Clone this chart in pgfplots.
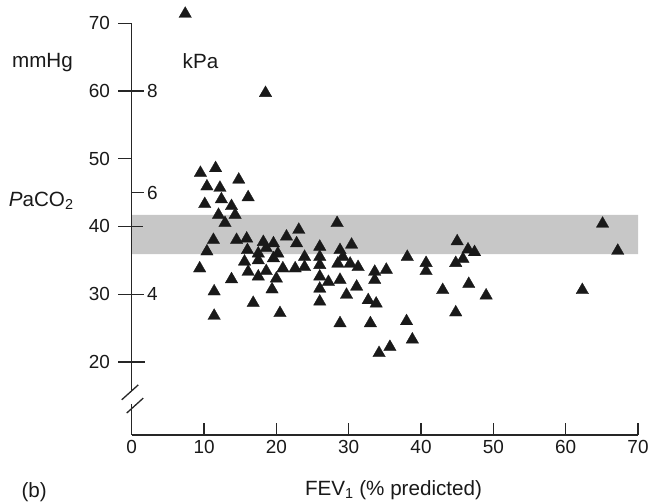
\documentclass[border=0pt]{standalone}
\usepackage{pgfplots}
\pgfplotsset{compat=1.18}
\usepackage{fontspec}
\setmainfont{Liberation Sans}
\pgfplotstableread{
x y
7.4 71.4
18.5 59.7
9.5 47.9
11.6 48.6
14.8 46.9
10.4 45.9
12.2 45.7
16.1 44.3
10.1 43.3
12.4 44.0
13.8 43.0
14.3 41.7
12.0 41.7
12.9 40.5
11.3 38.0
10.4 36.3
14.5 38.0
15.9 38.2
9.4 33.8
13.8 32.2
11.4 30.4
11.4 26.8
16.8 28.7
20.5 27.2
23.1 39.5
21.4 38.5
22.8 37.5
18.2 37.7
19.6 37.5
16.0 36.5
17.5 36.0
20.2 36.0
18.6 36.8
15.6 34.8
17.5 35.0
19.6 35.3
23.9 35.5
26.0 37.0
26.0 35.5
16.1 33.3
18.6 33.4
20.9 33.8
22.6 33.8
23.9 34.0
17.5 32.6
20.0 32.3
19.4 30.7
26.0 34.3
26.0 32.6
27.2 31.8
26.0 30.8
26.0 28.9
28.4 40.5
28.8 36.5
30.4 37.3
29.2 35.5
28.5 34.5
30.2 34.5
31.3 34.0
28.8 32.1
31.1 31.1
29.7 29.9
33.6 33.3
35.2 33.6
33.6 32.1
32.7 29.1
33.8 28.6
38.1 35.5
28.8 25.7
33.0 25.7
34.2 21.3
35.7 22.2
45.0 37.8
46.5 36.6
47.4 36.2
45.8 35.2
44.8 34.6
40.7 34.6
40.7 33.4
43.0 30.6
46.6 31.5
49.0 29.8
44.8 27.3
38.0 26.0
38.8 23.3
65.1 40.4
67.2 36.4
62.3 30.6
}\pts
\begin{document}
\begin{tikzpicture}[font=\fontsize{20.7}{24}\selectfont]
\useasboundingbox (-131.7bp,-67bp) rectangle (516.3bp,435bp);
\begin{axis}[
  at={(0,0)}, anchor=south west,
  scale only axis, width=506.3bp, height=411.7bp,
  xmin=0, xmax=70, ymin=9.2, ymax=70,
  clip=false,
  axis lines*=left,
  axis line style={line width=1.3bp, black!85},
  y axis line style={draw=none},
  xtick={0,10,...,70}, ytick={20,30,...,70},
  major tick length=0pt,
  /pgf/number format/assume math mode=true,
  tick label style={font=\fontsize{19}{22}\selectfont, text=black!90, inner sep=0pt},
  xticklabel style={anchor=north, yshift=-5bp},
  yticklabel style={anchor=east, xshift=-21.5bp},
]
\addplot[fill=black!22, draw=none] coordinates {(0,35.9) (70,35.9) (70,41.7) (0,41.7) (0,35.9)};
\addplot[only marks, mark=triangle*, mark size=7.2bp,
  mark options={fill=black!90, draw=black!90, line width=0.3bp}] table {\pts};
% y axis with break
\draw[line width=1.3bp, black!85] (axis cs:0,70) -- (axis cs:0,15.73);
\draw[line width=1.3bp, black!85] (axis cs:0,13.8) -- (axis cs:0,9.2);
\draw[line width=1.3bp, black!85] (axis cs:-1.38,14.4) -- (axis cs:0.91,16.6);
\draw[line width=1.3bp, black!85] (axis cs:-0.69,12.44) -- (axis cs:1.6,14.65);
% mmHg ticks
\draw[line width=1.3bp, black!85] ([xshift=-13.5bp]axis cs:0,70) -- (axis cs:0,70);
\draw[line width=1.3bp, black!85] ([xshift=-13.5bp]axis cs:0,60) -- ([xshift=12bp]axis cs:0,60);
\draw[line width=1.3bp, black!85] ([xshift=-13.5bp]axis cs:0,50) -- (axis cs:0,50);
\draw[line width=1.3bp, black!85] ([xshift=-13.5bp]axis cs:0,40) -- ([xshift=11.5bp]axis cs:0,40);
\draw[line width=1.3bp, black!85] ([xshift=-13.5bp]axis cs:0,30) -- ([xshift=12bp]axis cs:0,30);
\draw[line width=1.3bp, black!85] ([xshift=-13.5bp]axis cs:0,20) -- ([xshift=13bp]axis cs:0,20);
% kPa ticks
\draw[line width=1.3bp, black!85] (axis cs:0,45) -- ([xshift=12bp]axis cs:0,45);
\node[anchor=west, inner sep=0pt, font=\fontsize{19}{22}\selectfont, text=black!90] at ([xshift=15.3bp]axis cs:0,60) {8};
\node[anchor=west, inner sep=0pt, font=\fontsize{19}{22}\selectfont, text=black!90] at ([xshift=15.3bp]axis cs:0,45) {6};
\node[anchor=west, inner sep=0pt, font=\fontsize{19}{22}\selectfont, text=black!90] at ([xshift=15.3bp]axis cs:0,30) {4};
% x ticks (inside)
\draw[line width=1.3bp, black!85] (axis cs:10,9.2) -- ([yshift=12.5bp]axis cs:10,9.2);
\draw[line width=1.3bp, black!85] (axis cs:20,9.2) -- ([yshift=12.5bp]axis cs:20,9.2);
\draw[line width=1.3bp, black!85] (axis cs:30,9.2) -- ([yshift=12.5bp]axis cs:30,9.2);
\draw[line width=1.3bp, black!85] (axis cs:40,9.2) -- ([yshift=12.5bp]axis cs:40,9.2);
\draw[line width=1.3bp, black!85] (axis cs:50,9.2) -- ([yshift=12.5bp]axis cs:50,9.2);
\draw[line width=1.3bp, black!85] (axis cs:60,9.2) -- ([yshift=12.5bp]axis cs:60,9.2);
\draw[line width=1.3bp, black!85] (axis cs:70,9.2) -- ([yshift=12.5bp]axis cs:70,9.2);
% labels
\node[text=black!90, inner sep=0pt] at ([shift={(-89.2bp,372bp)}]axis cs:0,9.2) {mmHg};
\node[text=black!90, inner sep=0pt] at ([shift={(68.8bp,374bp)}]axis cs:0,9.2) {kPa};
\node[text=black!90, inner sep=0pt] at ([shift={(-90.5bp,234.3bp)}]axis cs:0,9.2) {\textit{P}aCO\textsubscript{2}};
\node[text=black!90, inner sep=0pt] at ([shift={(-97.5bp,-57bp)}]axis cs:0,9.2) {(b)};
\node[text=black!90, inner sep=0pt] at ([shift={(261.8bp,-55bp)}]axis cs:0,9.2) {FEV\textsubscript{1} (\% predicted)};
\end{axis}
\end{tikzpicture}
\end{document}
